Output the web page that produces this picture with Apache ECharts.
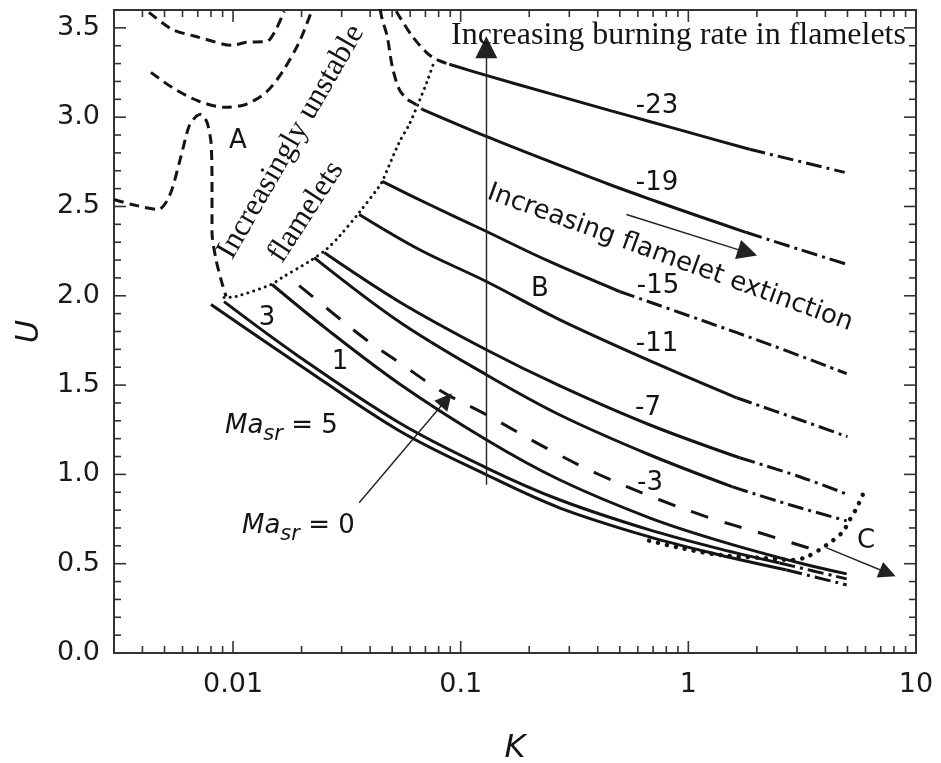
<!DOCTYPE html>
<html><head><meta charset="utf-8">
<script src="https://cdn.jsdelivr.net/npm/echarts@6/dist/echarts.min.js"></script>
<style>html,body{margin:0;padding:0;background:#fff}#c{width:941px;height:763px}</style>
</head><body><div id="c"></div>
<script>
// ---- axis ranges & ticks ----
const K_MIN = 0.003, K_MAX = 10, U_MIN = 0, U_MAX = 3.6;
const xMajorTicks = [0.01, 0.1, 1, 10];
const xMinorTicks = [0.004,0.005,0.006,0.007,0.008,0.009,
                     0.02,0.03,0.04,0.05,0.06,0.07,0.08,0.09,
                     0.2,0.3,0.4,0.5,0.6,0.7,0.8,0.9,
                     2,3,4,5,6,7,8,9];
const yMajorTicks = [0,0.5,1,1.5,2,2.5,3,3.5];
const yMinorTicks = [0.1,0.2,0.3,0.4,0.6,0.7,0.8,0.9,1.1,1.2,1.3,1.4,1.6,1.7,1.8,1.9,
                     2.1,2.2,2.3,2.4,2.6,2.7,2.8,2.9,3.1,3.2,3.3,3.4];

// ---- curves [K, U] ----
const ma_m23 = [[0.0891,3.296],[0.1296,3.234],[0.2453,3.133],[0.4503,3.038],[0.6752,2.976],[1.120,2.898],[1.858,2.820]];
const ma_m23_ext = [[1.858,2.820],[4.86,2.691]];
const ma_m19 = [[0.06778,3.044],[0.1296,2.892],[0.2453,2.752],[0.4503,2.623],[0.7249,2.528],[1.120,2.444],[1.803,2.354]];
const ma_m19_ext = [[1.803,2.354],[3.083,2.259],[5.0,2.175]];
const ma_m15 = [[0.04521,2.640],[0.07278,2.511],[0.1245,2.371],[0.2453,2.192],[0.4984,2.024]];
const ma_m15_ext = [[0.4984,2.024],[1.120,1.867],[2.346,1.721],[4.96,1.564]];
const ma_m11 = [[0.03582,2.455],[0.06575,2.259],[0.1296,2.080],[0.2715,1.867],[0.7249,1.620],[1.629,1.429]];
const ma_m11_ext = [[1.629,1.429],[3.083,1.306],[5.0,1.211]];
const ma_m7 = [[0.02513,2.242],[0.0537,1.967],[0.1296,1.698],[0.2715,1.497],[0.6752,1.278],[1.680,1.093]];
const ma_m7_ext = [[1.680,1.093],[3.083,0.987],[5.0,0.888]];
const ma_m3 = [[0.02271,2.214],[0.0537,1.855],[0.1296,1.558],[0.2715,1.334],[0.6752,1.110],[1.565,0.930]];
const ma_m3_ext = [[1.565,0.930],[2.786,0.830],[4.96,0.740]];
const ma_0 = [[0.01951,2.057],[0.02725,1.906],[0.03845,1.754],[0.0537,1.626],[0.0830,1.463],[0.1296,1.334],
              [0.2453,1.138],[0.407,0.998],[0.7473,0.858],[1.240,0.757],[2.056,0.673],[3.588,0.577]];
const ma_1 = [[0.01484,2.063],[0.02564,1.816],[0.0537,1.508],[0.1296,1.194],[0.2715,0.970],[0.6752,0.757],
              [1.372,0.628],[3.083,0.504],[4.96,0.443]];
const ma_3 = [[0.009129,1.967],[0.01951,1.659],[0.0537,1.289],[0.1296,1.037],[0.2715,0.858],[0.6752,0.689],
              [1.372,0.583],[2.518,0.504]];
const ma_3_ext = [[2.518,0.504],[4.96,0.415]];
const ma_5 = [[0.008003,1.951],[0.01951,1.614],[0.0537,1.244],[0.1296,0.998],[0.2715,0.813],[0.6752,0.650],
              [1.372,0.549],[2.703,0.465]];
const ma_5_ext = [[2.703,0.465],[4.96,0.381]];

const regionA1 = [[0.004272,3.587],[0.005392,3.492],[0.007087,3.447],[0.0099,3.402],[0.01141,3.419],
                  [0.01411,3.425],[0.01546,3.492],[0.01676,3.593]];
const regionA2 = [[0.00436,3.251],[0.005392,3.167],[0.007087,3.089],[0.009316,3.055],[0.01141,3.072],
                  [0.01397,3.139],[0.01642,3.251],[0.01951,3.419],[0.02203,3.587]];
const regionA3 = [[0.003,2.539],[0.003596,2.511],[0.004726,2.483],[0.005074,2.522],[0.005392,2.595],
                  [0.005906,2.780],[0.006404,2.948],[0.006874,3.004],[0.007232,3.016],[0.007685,2.971],
                  [0.008003,2.859],[0.008084,2.635],[0.008084,2.354],[0.008417,2.203],[0.008855,2.091],[0.009316,1.996]];
const regionA4 = [[0.0443,3.604],[0.04521,3.548],[0.04755,3.453],[0.05003,3.285],[0.0537,3.156],
                  [0.05824,3.100],[0.06252,3.077],[0.06778,3.044]];
const regionA5 = [[0.0521,3.593],[0.0537,3.565],[0.06126,3.453],[0.0706,3.363],[0.07812,3.324],[0.0891,3.296]];

const unstableBoundary = [[0.009129,1.990],[0.01031,1.996],[0.01469,2.063],[0.01642,2.102],[0.02159,2.192],
                  [0.02564,2.259],[0.02925,2.332],[0.03582,2.466],[0.04386,2.612],[0.04521,2.640],[0.0537,2.859],
                  [0.05943,2.960],[0.06575,3.089],[0.07128,3.201],[0.07656,3.313]];
const extinctionBoundary = [[5.835,0.886],[5.492,0.813],[5.117,0.746],[4.765,0.678],[4.053,0.605],[3.311,0.538],
                  [2.872,0.521],[2.056,0.533],[1.372,0.549],[0.9149,0.589],[0.6548,0.633]];

// arrows [[K1,U1],[K2,U2]]
const arrowBurning = [[0.1296,0.942],[0.1296,3.391]];
const arrowExtinction = [[0.5348,2.455],[1.821,2.242]];
const arrowC = [[4.053,0.589],[7.516,0.448]];
const arrowMa0 = [[0.03582,0.841],[0.08644,1.418]];

// ---- build ----
const INK = '#141414';
const SANS = 'DejaVu Sans';
const SERIF = 'Liberation Serif';
function lineSeries(data, type, width, smooth) {
  return {type:'line', data:data, showSymbol:false, symbol:'none', smooth:smooth===undefined?0.35:smooth,
    silent:true, clip:false, z:3,
    lineStyle:{color:INK, width:width||3, type:type||'solid', cap:(Array.isArray(type)&&type[0]<1)?'round':'butt'}};
}
const DASHDOT = [16,5,3,5];
const series = [
  lineSeries(ma_m23), lineSeries(ma_m23_ext, DASHDOT),
  lineSeries(ma_m19), lineSeries(ma_m19_ext, DASHDOT),
  lineSeries(ma_m15), lineSeries(ma_m15_ext, DASHDOT),
  lineSeries(ma_m11), lineSeries(ma_m11_ext, DASHDOT),
  lineSeries(ma_m7), lineSeries(ma_m7_ext, DASHDOT),
  lineSeries(ma_m3), lineSeries(ma_m3_ext, DASHDOT),
  lineSeries(ma_0, [18,17]),
  lineSeries(ma_1),
  lineSeries(ma_3), lineSeries(ma_3_ext, DASHDOT),
  lineSeries(ma_5), lineSeries(ma_5_ext, DASHDOT),
  lineSeries(regionA1, [10,6], 3, 0.25),
  lineSeries(regionA2, [10,6], 3, 0.3),
  lineSeries(regionA3, [10,6], 3, 0.25),
  lineSeries(regionA4, [10,6], 3, 0.3),
  lineSeries(regionA5, [10,6], 3, 0.3),
  lineSeries(unstableBoundary, [0.1,6], 3, 0.3),
  lineSeries(extinctionBoundary, [0.1,9], 4.5, 0.3)
];
function arrowSeries(coords, size) {
  return {type:'lines', coordinateSystem:'cartesian2d', silent:true, z:4,
    symbol:['none','triangle'], symbolSize:size,
    lineStyle:{color:'#222', width:1.4, opacity:1, curveness:0},
    itemStyle:{color:'#111'},
    data:[{coords:coords}]};
}
series.push(arrowSeries(arrowBurning, [14,22]));
series.push(arrowSeries(arrowExtinction, [12,20]));
series.push(arrowSeries(arrowC, [10,17]));
series.push(arrowSeries(arrowMa0, [10,17]));

// ticks (inward, all four sides)
const tickData = [];
xMajorTicks.forEach(v => tickData.push([v, U_MIN, 0]));
xMinorTicks.forEach(v => tickData.push([v, U_MIN, 1]));
yMajorTicks.forEach(v => tickData.push([K_MIN, v, 2]));
yMinorTicks.forEach(v => tickData.push([K_MIN, v, 3]));
series.push({
  type:'custom', data:tickData, encode:{x:0,y:1}, silent:true, clip:false, z:5,
  renderItem:function(params, api){
    const kind = api.value(2);
    const len = (kind===0||kind===2) ? 12 : 7;
    const st = {stroke:'#333', lineWidth:1.6};
    if (kind < 2) {
      const b = api.coord([api.value(0), U_MIN]);
      const t = api.coord([api.value(0), U_MAX]);
      return {type:'group', children:[
        {type:'line', shape:{x1:b[0],y1:b[1],x2:b[0],y2:b[1]-len}, style:st},
        {type:'line', shape:{x1:t[0],y1:t[1],x2:t[0],y2:t[1]+len}, style:st}]};
    }
    const l = api.coord([K_MIN, api.value(1)]);
    const r = api.coord([K_MAX, api.value(1)]);
    return {type:'group', children:[
      {type:'line', shape:{x1:l[0],y1:l[1],x2:l[0]+len,y2:l[1]}, style:st},
      {type:'line', shape:{x1:r[0],y1:r[1],x2:r[0]-len,y2:r[1]}, style:st}]};
  }
});

function txt(s, x, y, size, family, rot, extra) {
  const style = Object.assign({text:s, fill:INK, font:(size)+'px "'+family+'"',
      fontSize:size, fontFamily:family,
      align:'center', verticalAlign:'middle', textAlign:'center', textVerticalAlign:'middle'}, extra||{});
  return {type:'text', x:x, y:y, rotation:(rot||0)*Math.PI/180, silent:true, z:10, style:style};
}
const richMa = {
  i:{fontStyle:'italic', fontSize:26, fontFamily:SANS, fill:INK},
  s:{fontStyle:'italic', fontSize:21, fontFamily:SANS, fill:INK, padding:[18,0,0,0]},
  n:{fontSize:26, fontFamily:SANS, fill:INK}
};
const graphics = [
  txt('Increasing burning rate in flamelets', 451, 36, 32, SERIF, 0, {align:'left', textAlign:'left'}),
  txt('Increasingly unstable', 291, 142, 31, SERIF, 60),
  txt('flamelets', 306, 212, 31, SERIF, 57),
  txt('Increasing flamelet extinction', 670, 258, 26, SANS, -20),
  txt('-23', 657, 106, 26, SANS), txt('-19', 657, 183, 26, SANS), txt('-15', 658, 286, 26, SANS),
  txt('-11', 657, 344, 26, SANS), txt('-7', 648, 408, 26, SANS), txt('-3', 650, 483, 26, SANS),
  txt('3', 267, 318, 26, SANS), txt('1', 340, 362, 26, SANS),
  txt('A', 238, 141, 26, SANS), txt('B', 540, 289, 26, SANS), txt('C', 866, 541, 26, SANS),
  {type:'text', x:225, y:426, silent:true, z:10, style:{text:'{i|Ma}{s|sr}{n| = 5}', rich:richMa,
     align:'left', verticalAlign:'middle', textAlign:'left', textVerticalAlign:'middle'}},
  {type:'text', x:242, y:526, silent:true, z:10, style:{text:'{i|Ma}{s|sr}{n| = 0}', rich:richMa,
     align:'left', verticalAlign:'middle', textAlign:'left', textVerticalAlign:'middle'}}
];

const chart = echarts.init(document.getElementById('c'), null, {renderer:'canvas'});
chart.setOption({
  animation:false,
  backgroundColor:'#ffffff',
  grid:{left:114, right:25, top:10, bottom:110, show:true, borderColor:'#333', borderWidth:2,
        backgroundColor:'transparent', containLabel:false, outerBoundsMode:'none'},
  xAxis:{type:'log', logBase:10, min:K_MIN, max:K_MAX,
    name:'K', nameLocation:'middle', nameGap:80,
    nameTextStyle:{fontSize:32, fontStyle:'italic', fontFamily:SANS, color:INK},
    axisLine:{show:false}, axisTick:{show:false}, splitLine:{show:false}, minorTick:{show:false},
    axisLabel:{margin:18, fontSize:27, fontFamily:SANS, color:'#1a1a1a', showMinLabel:false,
      formatter:function(v){ const l = Math.log10(v); return Math.abs(l-Math.round(l))<1e-6 ? String(v) : ''; }}},
  yAxis:{type:'value', min:U_MIN, max:U_MAX, interval:0.5,
    name:'U', nameLocation:'middle', nameGap:66,
    nameTextStyle:{fontSize:32, fontStyle:'italic', fontFamily:SANS, color:INK},
    axisLine:{show:false}, axisTick:{show:false}, splitLine:{show:false},
    axisLabel:{margin:14, fontSize:27, fontFamily:SANS, color:'#1a1a1a', showMaxLabel:false,
      formatter:function(v){ return v > 3.55 ? '' : v.toFixed(1); }}},
  series:series,
  graphic:graphics
});
</script></body></html>
